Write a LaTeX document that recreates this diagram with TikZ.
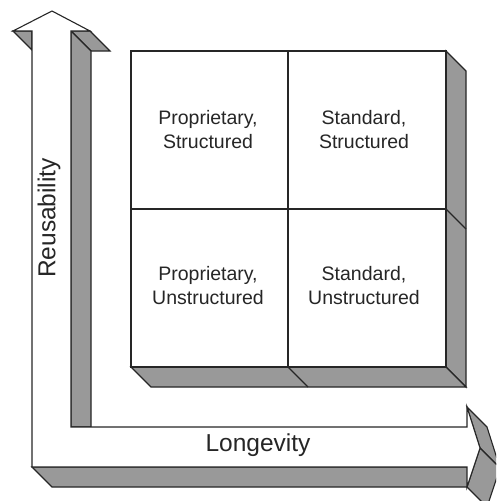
\documentclass[tikz,border=0pt]{standalone}
\usepackage{fontspec}
\setmainfont{Liberation Sans}
\begin{document}
\begin{tikzpicture}[x=1pt, y=-1pt,
    face/.style={draw=black!85, line width=1.1pt, line join=miter, fill=white},
    side/.style={face, fill=black!40},
    cell/.style={align=center, font=\fontsize{19.5}{24}\selectfont, text=black!85},
    axis/.style={font=\fontsize{24.5}{28}\selectfont, text=black!85}]
  \useasboundingbox (0,0) rectangle (496,501);
  \clip (0,0) rectangle (496,501);

  % the four cells with their depth
  \draw[side] (446,51) -- (466,71) -- (466,387) -- (446,367) -- cycle;
  \draw[side] (131,367) -- (446,367) -- (466,387) -- (151,387) -- cycle;
  \draw[face] (446,209) -- (466,229);
  \draw[face] (288,367) -- (308,387);
  \draw[face] (131,51) rectangle (446,367);
  \draw[face] (288,51) -- (288,367) (131,209) -- (446,209);

  \node[cell] (propstr) at (208,130) {Proprietary,\\Structured};
  \node[cell] (stdstr) at (364,130) {Standard,\\Structured};
  \node[cell] (propuns) at (208,286) {Proprietary,\\Unstructured};
  \node[cell] (stduns) at (364,286) {Standard,\\Unstructured};

  % the bent arrow
  \draw[side] (32,467) -- (52,487) -- (487,487) -- (467,467) -- cycle;
  \draw[side] (13,31) -- (32,31) -- (32,50) -- cycle;
  \draw[side] (71,31) -- (90,31) -- (110,51) -- (91,51) -- cycle;
  \draw[side] (71,31) -- (91,51) -- (91,427) -- (71,427) -- cycle;
  \draw[side] (467,407) -- (480,448) -- (500,468) -- (487,427) -- cycle;
  \draw[side] (480,448) -- (467,487) -- (487,507) -- (500,468) -- cycle;
  \draw[face] (32,467) -- (32,31) -- (13,31) -- (52,11) -- (90,31) -- (71,31)
    -- (71,427) -- (467,427) -- (467,407) -- (480,448) -- (467,487)
    -- (467,467) -- cycle;

  \node[axis, rotate=90] (reuse) at (49,218) {Reusability};
  \node[axis] (longev) at (258,445) {Longevity};
\end{tikzpicture}
\end{document}
